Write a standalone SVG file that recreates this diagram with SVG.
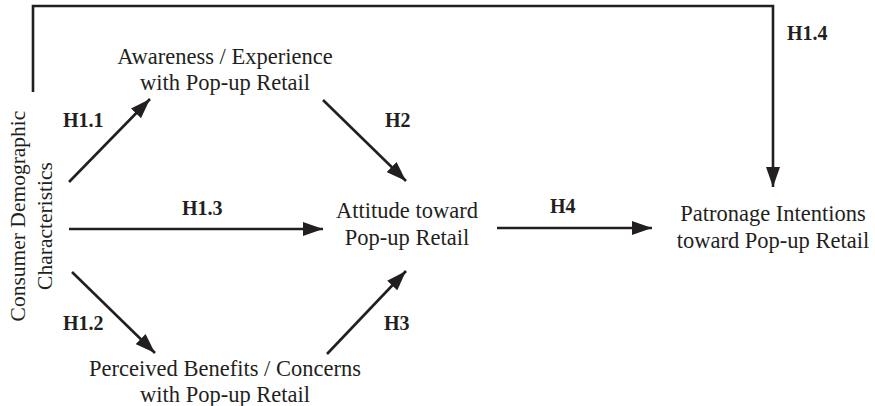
<svg xmlns="http://www.w3.org/2000/svg" width="875" height="406" viewBox="0 0 875 406">
<style>
.n{font-family:"Liberation Serif","Times New Roman",serif;font-size:22.5px;fill:#231f20;text-anchor:middle}
.v{font-family:"Liberation Serif","Times New Roman",serif;font-size:21.5px;fill:#231f20;text-anchor:middle}
.l{font-family:"Liberation Serif","Times New Roman",serif;font-size:20px;font-weight:bold;fill:#231f20}
.c{stroke:#231f20;stroke-width:2.6;fill:none}
</style>
<defs>
<marker id="ah" markerWidth="20" markerHeight="14" refX="20" refY="7" orient="auto" markerUnits="userSpaceOnUse">
<path d="M0,0 L20,7 L0,14 Z" fill="#231f20"/>
</marker>
</defs>
<rect width="875" height="406" fill="#fff"/>
<g id="connectors">
<path class="c" d="M33,92 V6 H773 V187" marker-end="url(#ah)"/>
<line class="c" x1="69" y1="182" x2="150" y2="99" marker-end="url(#ah)"/>
<line class="c" x1="323" y1="100" x2="406" y2="181" marker-end="url(#ah)"/>
<line class="c" x1="69" y1="229" x2="323" y2="229" marker-end="url(#ah)"/>
<line class="c" x1="497" y1="228" x2="652" y2="228" marker-end="url(#ah)"/>
<line class="c" x1="72" y1="272" x2="155" y2="353" marker-end="url(#ah)"/>
<line class="c" x1="327" y1="354" x2="406" y2="271" marker-end="url(#ah)"/>
</g>
<g id="labels">
<text class="l" x="787" y="40">H1.4</text>
<text class="l" x="63" y="127">H1.1</text>
<text class="l" x="385" y="127">H2</text>
<text class="l" x="182" y="215">H1.3</text>
<text class="l" x="550" y="213">H4</text>
<text class="l" x="63" y="330">H1.2</text>
<text class="l" x="384" y="330">H3</text>
</g>
<g id="demographics">
<text class="v" transform="rotate(-90)"><tspan x="-216" y="25">Consumer Demographic</tspan><tspan x="-226" y="52">Characteristics</tspan></text>
</g>
<g id="awareness">
<text class="n"><tspan x="225" y="64">Awareness / Experience</tspan><tspan x="225" y="90">with Pop-up Retail</tspan></text>
</g>
<g id="attitude">
<text class="n"><tspan x="407" y="218">Attitude toward</tspan><tspan x="407" y="245">Pop-up Retail</tspan></text>
</g>
<g id="patronage">
<text class="n"><tspan x="773" y="221">Patronage Intentions</tspan><tspan x="773" y="248">toward Pop-up Retail</tspan></text>
</g>
<g id="perceived">
<text class="n"><tspan x="225" y="376">Perceived Benefits / Concerns</tspan><tspan x="225" y="402">with Pop-up Retail</tspan></text>
</g>
</svg>
